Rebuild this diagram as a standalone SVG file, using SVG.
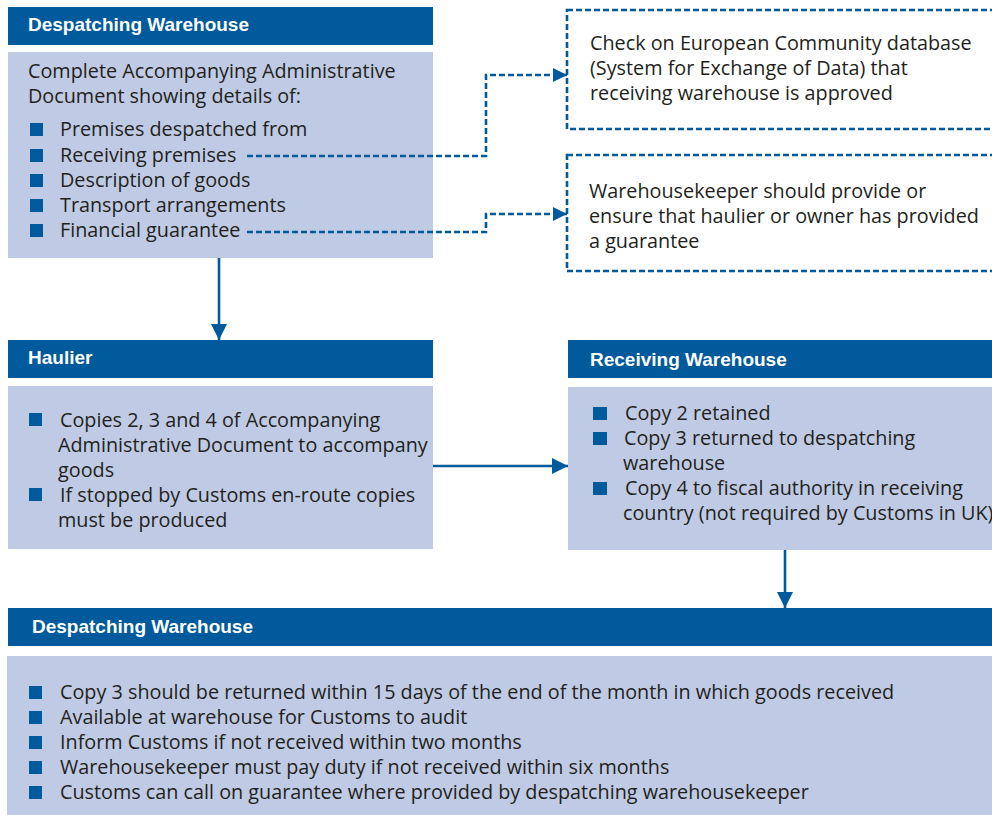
<svg xmlns="http://www.w3.org/2000/svg" width="992" height="815" viewBox="0 0 992 815">
  <defs>
    <style>
      .hdr { fill: #005a9c; }
      .body { fill: #bfcbe4; }
      .note { fill: none; stroke: #005a9c; stroke-width: 2.6; stroke-dasharray: 6 3; }
      .title { font-family: "Liberation Sans", Arial, sans-serif; font-weight: bold; font-size: 19px; fill: #ffffff; }
      .txt { font-family: "Open Sans", "Liberation Sans", Arial, sans-serif; font-size: 19.8px; fill: #231f20; }
      .sq { fill: #005a9c; }
      .flow { fill: none; stroke: #005a9c; stroke-width: 2.6; }
      .link { fill: none; stroke: #005a9c; stroke-width: 2.6; stroke-dasharray: 6 3; }
    </style>
    <marker id="head" viewBox="0 0 16 16" refX="16" refY="8" markerWidth="16" markerHeight="16" markerUnits="userSpaceOnUse" orient="auto">
      <path d="M0,0 L16,8 L0,16 Z" fill="#005a9c"/>
    </marker>
    <marker id="headSmall" viewBox="0 0 14 14" refX="14" refY="7" markerWidth="14" markerHeight="14" markerUnits="userSpaceOnUse" orient="auto">
      <path d="M0,0 L14,7 L0,14 Z" fill="#005a9c"/>
    </marker>
  </defs>

  <rect width="992" height="815" fill="#ffffff"/>

  <!-- Despatching warehouse: document preparation -->
  <g id="despatch">
    <rect class="hdr" x="8" y="7" width="425" height="38"/>
    <text class="title" x="28" y="31">Despatching Warehouse</text>
    <rect class="body" x="8" y="52" width="425" height="206"/>
    <text class="txt" x="28" y="78">Complete Accompanying Administrative</text>
    <text class="txt" x="28" y="103">Document showing details of:</text>
    <rect class="sq" x="30" y="123" width="13" height="13"/>
    <text class="txt" x="60" y="136">Premises despatched from</text>
    <rect class="sq" x="30" y="149" width="13" height="13"/>
    <text class="txt" x="60" y="162">Receiving premises</text>
    <rect class="sq" x="30" y="174" width="13" height="13"/>
    <text class="txt" x="60" y="187">Description of goods</text>
    <rect class="sq" x="30" y="199" width="13" height="13"/>
    <text class="txt" x="60" y="212">Transport arrangements</text>
    <rect class="sq" x="30" y="224" width="13" height="13"/>
    <text class="txt" x="60" y="237">Financial guarantee</text>
  </g>

  <!-- Note: database check -->
  <g id="note-sed">
    <rect class="note" x="567" y="10" width="440" height="119"/>
    <text class="txt" x="590" y="50">Check on European Community database</text>
    <text class="txt" x="590" y="75">(System for Exchange of Data) that</text>
    <text class="txt" x="590" y="100">receiving warehouse is approved</text>
  </g>

  <!-- Note: guarantee -->
  <g id="note-guarantee">
    <rect class="note" x="567" y="155" width="440" height="116"/>
    <text class="txt" x="589" y="198">Warehousekeeper should provide or</text>
    <text class="txt" x="589" y="223">ensure that haulier or owner has provided</text>
    <text class="txt" x="589" y="248">a guarantee</text>
  </g>

  <!-- Haulier -->
  <g id="haulier">
    <rect class="hdr" x="8" y="340" width="425" height="38"/>
    <text class="title" x="28" y="364">Haulier</text>
    <rect class="body" x="8" y="386" width="425" height="163"/>
    <rect class="sq" x="29" y="413" width="13" height="13"/>
    <text class="txt" x="60" y="427">Copies 2, 3 and 4 of Accompanying</text>
    <text class="txt" x="58" y="452">Administrative Document to accompany</text>
    <text class="txt" x="58" y="477">goods</text>
    <rect class="sq" x="29" y="488" width="13" height="13"/>
    <text class="txt" x="60" y="502">If stopped by Customs en-route copies</text>
    <text class="txt" x="58" y="527">must be produced</text>
  </g>

  <!-- Receiving warehouse -->
  <g id="receiving">
    <rect class="hdr" x="568" y="340" width="424" height="38"/>
    <text class="title" x="590" y="366">Receiving Warehouse</text>
    <rect class="body" x="568" y="387" width="424" height="163"/>
    <rect class="sq" x="593" y="407" width="14" height="13"/>
    <text class="txt" x="625" y="420">Copy 2 retained</text>
    <rect class="sq" x="593" y="432" width="14" height="13"/>
    <text class="txt" x="624" y="445">Copy 3 returned to despatching</text>
    <text class="txt" x="623" y="470">warehouse</text>
    <rect class="sq" x="593" y="482" width="14" height="13"/>
    <text class="txt" x="625" y="495">Copy 4 to fiscal authority in receiving</text>
    <text class="txt" x="623" y="520">country (not required by Customs in UK)</text>
  </g>

  <!-- Despatching warehouse: return of copy 3 -->
  <g id="despatch-return">
    <rect class="hdr" x="8" y="608" width="984" height="38"/>
    <text class="title" x="32" y="633">Despatching Warehouse</text>
    <rect class="body" x="7" y="656" width="985" height="159"/>
    <rect class="sq" x="29" y="686" width="13" height="13"/>
    <text class="txt" x="60" y="699">Copy 3 should be returned within 15 days of the end of the month in which goods received</text>
    <rect class="sq" x="29" y="711" width="13" height="13"/>
    <text class="txt" x="60" y="724">Available at warehouse for Customs to audit</text>
    <rect class="sq" x="29" y="736" width="13" height="13"/>
    <text class="txt" x="60" y="749">Inform Customs if not received within two months</text>
    <rect class="sq" x="29" y="761" width="13" height="13"/>
    <text class="txt" x="60" y="774">Warehousekeeper must pay duty if not received within six months</text>
    <rect class="sq" x="29" y="786" width="13" height="13"/>
    <text class="txt" x="60" y="799">Customs can call on guarantee where provided by despatching warehousekeeper</text>
  </g>

  <!-- Connectors -->
  <g id="connectors">
    <path class="link" d="M247,156 H486 V75 H567" marker-end="url(#headSmall)"/>
    <path class="link" d="M247,232 H486 V214 H567" marker-end="url(#headSmall)"/>
    <path class="flow" d="M219,258 V340" marker-end="url(#head)"/>
    <path class="flow" d="M433,466 H568" marker-end="url(#head)"/>
    <path class="flow" d="M785,550 V608" marker-end="url(#head)"/>
  </g>
</svg>
